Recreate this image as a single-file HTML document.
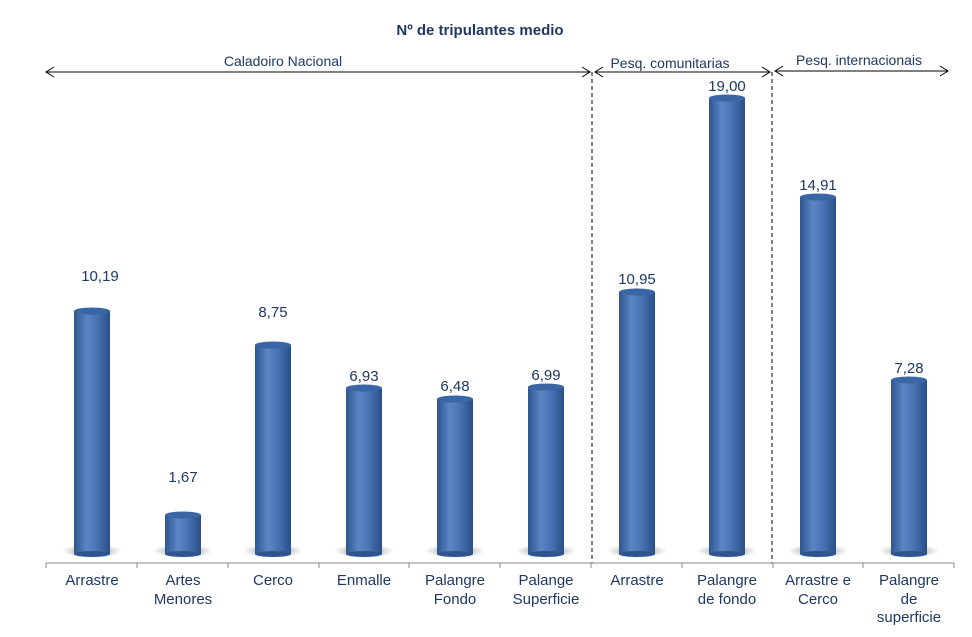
<!DOCTYPE html>
<html><head><meta charset="utf-8"><style>
body{margin:0;background:#fff;}
svg text{font-family:"Liberation Sans",Arial,sans-serif;}
</style></head><body>
<svg width="972" height="632" viewBox="0 0 972 632" xmlns="http://www.w3.org/2000/svg">
<defs>
<linearGradient id="g" x1="0" x2="1" y1="0" y2="0">
<stop offset="0" stop-color="#2e558f"/><stop offset="0.35" stop-color="#5a86c4"/><stop offset="0.6" stop-color="#4a76b8"/><stop offset="1" stop-color="#2a4f87"/>
</linearGradient>
<radialGradient id="sh" cx="0.5" cy="0.5" r="0.5"><stop offset="0" stop-color="#000" stop-opacity="0.45"/><stop offset="1" stop-color="#000" stop-opacity="0"/></radialGradient>
</defs>
<text x="480" y="35" text-anchor="middle" font-size="15" font-weight="bold" fill="#1f3864">Nº de tripulantes medio</text>
<g stroke="#000" stroke-width="1" fill="none">
<line x1="46" y1="72" x2="590" y2="72"/><polyline points="54,67 46,72 54,77"/><polyline points="582,67 590,72 582,77"/>
<line x1="595" y1="72" x2="770" y2="72"/><polyline points="603,67 595,72 603,77"/><polyline points="762,67 770,72 762,77"/>
<line x1="775" y1="71" x2="948" y2="71"/><polyline points="783,66 775,71 783,76"/><polyline points="940,66 948,71 940,76"/>
<line x1="592" y1="72" x2="592" y2="563" stroke-dasharray="4,3"/>
<line x1="772" y1="72" x2="772" y2="563" stroke-dasharray="4,3"/>
</g>
<g font-size="14" fill="#1f3864" text-anchor="middle">
<text x="283" y="66">Caladoiro Nacional</text>
<text x="670" y="68">Pesq. comunitarias</text>
<text x="859" y="65">Pesq. internacionais</text>
</g>
<line x1="46" y1="563" x2="954" y2="563" stroke="#888" stroke-width="1"/>
<g stroke="#888">
<line x1="46" y1="563" x2="46" y2="568"/><line x1="137" y1="563" x2="137" y2="568"/><line x1="228" y1="563" x2="228" y2="568"/><line x1="319" y1="563" x2="319" y2="568"/><line x1="409" y1="563" x2="409" y2="568"/><line x1="500" y1="563" x2="500" y2="568"/><line x1="591" y1="563" x2="591" y2="568"/><line x1="682" y1="563" x2="682" y2="568"/><line x1="773" y1="563" x2="773" y2="568"/><line x1="863" y1="563" x2="863" y2="568"/><line x1="954" y1="563" x2="954" y2="568"/>
</g>
<g>
<ellipse cx="92" cy="551" rx="30" ry="7" fill="url(#sh)"/><rect x="74" y="311" width="36" height="243" fill="url(#g)"/><ellipse cx="92" cy="311" rx="18" ry="3.5" fill="#3b66a6"/><ellipse cx="92" cy="554" rx="18" ry="3" fill="#2e558f"/>
<ellipse cx="183" cy="551" rx="30" ry="7" fill="url(#sh)"/><rect x="165" y="515" width="36" height="39" fill="url(#g)"/><ellipse cx="183" cy="515" rx="18" ry="3.5" fill="#3b66a6"/><ellipse cx="183" cy="554" rx="18" ry="3" fill="#2e558f"/>
<ellipse cx="273" cy="551" rx="30" ry="7" fill="url(#sh)"/><rect x="255" y="345" width="36" height="209" fill="url(#g)"/><ellipse cx="273" cy="345" rx="18" ry="3.5" fill="#3b66a6"/><ellipse cx="273" cy="554" rx="18" ry="3" fill="#2e558f"/>
<ellipse cx="364" cy="551" rx="30" ry="7" fill="url(#sh)"/><rect x="346" y="388" width="36" height="166" fill="url(#g)"/><ellipse cx="364" cy="388" rx="18" ry="3.5" fill="#3b66a6"/><ellipse cx="364" cy="554" rx="18" ry="3" fill="#2e558f"/>
<ellipse cx="455" cy="551" rx="30" ry="7" fill="url(#sh)"/><rect x="437" y="399" width="36" height="155" fill="url(#g)"/><ellipse cx="455" cy="399" rx="18" ry="3.5" fill="#3b66a6"/><ellipse cx="455" cy="554" rx="18" ry="3" fill="#2e558f"/>
<ellipse cx="546" cy="551" rx="30" ry="7" fill="url(#sh)"/><rect x="528" y="387" width="36" height="167" fill="url(#g)"/><ellipse cx="546" cy="387" rx="18" ry="3.5" fill="#3b66a6"/><ellipse cx="546" cy="554" rx="18" ry="3" fill="#2e558f"/>
<ellipse cx="637" cy="551" rx="30" ry="7" fill="url(#sh)"/><rect x="619" y="292" width="36" height="262" fill="url(#g)"/><ellipse cx="637" cy="292" rx="18" ry="3.5" fill="#3b66a6"/><ellipse cx="637" cy="554" rx="18" ry="3" fill="#2e558f"/>
<ellipse cx="727" cy="551" rx="30" ry="7" fill="url(#sh)"/><rect x="709" y="98" width="36" height="456" fill="url(#g)"/><ellipse cx="727" cy="98" rx="18" ry="3.5" fill="#3b66a6"/><ellipse cx="727" cy="554" rx="18" ry="3" fill="#2e558f"/>
<ellipse cx="818" cy="551" rx="30" ry="7" fill="url(#sh)"/><rect x="800" y="197" width="36" height="357" fill="url(#g)"/><ellipse cx="818" cy="197" rx="18" ry="3.5" fill="#3b66a6"/><ellipse cx="818" cy="554" rx="18" ry="3" fill="#2e558f"/>
<ellipse cx="909" cy="551" rx="30" ry="7" fill="url(#sh)"/><rect x="891" y="380" width="36" height="174" fill="url(#g)"/><ellipse cx="909" cy="380" rx="18" ry="3.5" fill="#3b66a6"/><ellipse cx="909" cy="554" rx="18" ry="3" fill="#2e558f"/>
</g>
<g font-size="15" fill="#1f3864" text-anchor="middle">
<text x="100" y="281">10,19</text>
<text x="183" y="482">1,67</text>
<text x="273" y="317">8,75</text>
<text x="364" y="381">6,93</text>
<text x="455" y="391">6,48</text>
<text x="546" y="380">6,99</text>
<text x="637" y="284">10,95</text>
<text x="727" y="91">19,00</text>
<text x="818" y="190">14,91</text>
<text x="909" y="373">7,28</text>
</g>
<g font-size="15" fill="#1f3864" text-anchor="middle">
<text x="92" y="585">Arrastre</text>
<text x="183" y="585">Artes</text><text x="183" y="604">Menores</text>
<text x="273" y="585">Cerco</text>
<text x="364" y="585">Enmalle</text>
<text x="455" y="585">Palangre</text><text x="455" y="604">Fondo</text>
<text x="546" y="585">Palange</text><text x="546" y="604">Superficie</text>
<text x="637" y="585">Arrastre</text>
<text x="727" y="585">Palangre</text><text x="727" y="604">de fondo</text>
<text x="818" y="585">Arrastre e</text><text x="818" y="604">Cerco</text>
<text x="909" y="585">Palangre</text><text x="909" y="604">de</text><text x="909" y="622">superficie</text>
</g>
</svg>
</body></html>
